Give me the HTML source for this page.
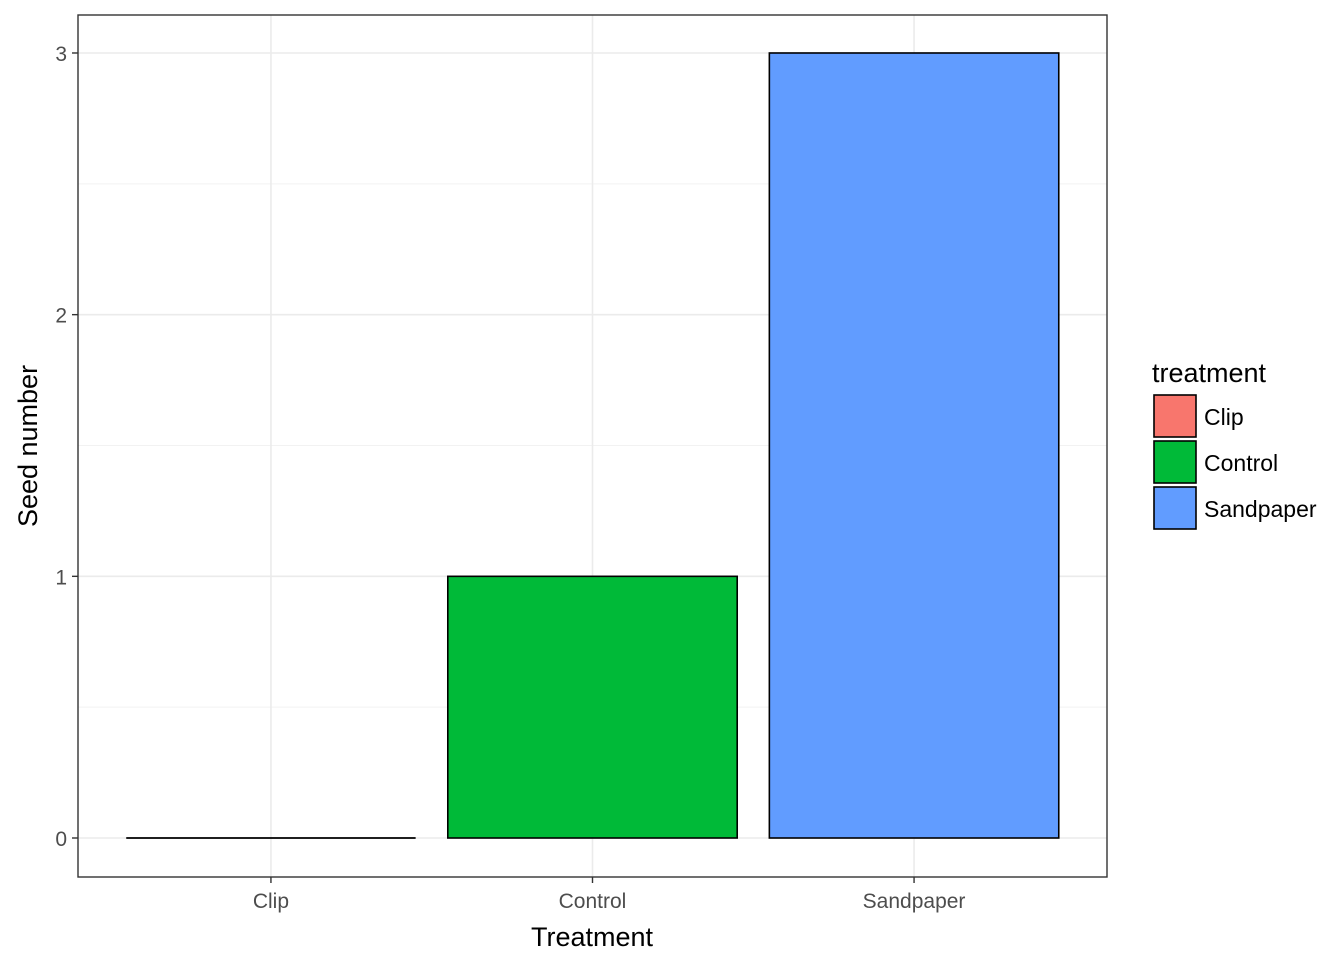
<!DOCTYPE html>
<html><head><meta charset="utf-8"><style>
html,body{margin:0;padding:0;background:#fff;}
svg{display:block;font-family:"Liberation Sans",Arial,sans-serif;}
</style></head><body>
<svg id="chart" width="1344" height="960">
<rect x="0" y="0" width="1344" height="960" fill="#fff"/>
<g id="grid"></g>
<g id="bars"></g>
<rect x="78" y="15" width="1029" height="862" fill="none" stroke="#333" stroke-width="1.4"/>
<g id="axes"></g>
<text x="592" y="946" font-size="27" text-anchor="middle" fill="#000">Treatment</text>
<text transform="translate(37,446) rotate(-90)" font-size="27" text-anchor="middle" fill="#000">Seed number</text>
<g id="legend">
<text x="1152" y="382" font-size="27" fill="#000">treatment</text>
</g>
</svg>
<script>
const categories = ["Clip","Control","Sandpaper"];
const values = [0,1,3];
const colors = ["#F8766D","#00BA38","#619CFF"];
const yTicks = [0,1,2,3];
const yMinor = [0.5,1.5,2.5];

const NS="http://www.w3.org/2000/svg";
function mk(tag,attrs,parent){const e=document.createElementNS(NS,tag);for(const k in attrs)e.setAttribute(k,attrs[k]);parent.appendChild(e);return e;}
const px0=78,px1=1107;
const yScale=v=>838-v*261.67;
const step=(px1-px0)/(categories.length+0.2);
const xScale=i=>px0+step*(0.6+i);
const bw=step*0.9;
const grid=document.getElementById('grid'),bars=document.getElementById('bars'),axes=document.getElementById('axes'),legend=document.getElementById('legend');

yMinor.forEach(v=>{const l=mk('line',{x1:px0,x2:px1,y1:yScale(v),y2:yScale(v),stroke:'#f2f2f2','stroke-width':1},grid);

});
yTicks.forEach(v=>{const y=yScale(v);
const l=mk('line',{x1:px0,x2:px1,y1:y,y2:y,stroke:'#ebebeb','stroke-width':1.6},grid);


const t=mk('line',{x1:px0-6,x2:px0,y1:y,y2:y,stroke:'#333','stroke-width':1.4},axes);


const tx=mk('text',{x:px0-11,y:y+8,'font-size':21,'text-anchor':'end',fill:'#4d4d4d'},axes);tx.textContent=v;

});
categories.forEach((c,i)=>{const x=xScale(i);
const l=mk('line',{x1:x,x2:x,y1:15,y2:877,stroke:'#ebebeb','stroke-width':1.6},grid);


const y0=yScale(0),y1=yScale(values[i]);
if(Math.abs(y0-y1)<0.5){
const r=mk('line',{x1:x-bw/2,x2:x+bw/2,y1:y0,y2:y0,stroke:'#000','stroke-width':1.8},bars);


}else{
const r=mk('rect',{x:x-bw/2,y:Math.min(y0,y1),width:bw,height:Math.abs(y0-y1),fill:colors[i],stroke:'#000','stroke-width':1.6},bars);


}
const t=mk('line',{x1:x,x2:x,y1:877,y2:883,stroke:'#333','stroke-width':1.4},axes);


const tx=mk('text',{x:x,y:908,'font-size':21,'text-anchor':'middle',fill:'#4d4d4d'},axes);tx.textContent=c;


const ly=395+i*46;
const k=mk('rect',{x:1154,y:ly,width:42,height:42,fill:colors[i],stroke:'#000','stroke-width':1.6},legend);


const lt=mk('text',{x:1204,y:ly+30,'font-size':23,fill:'#000'},legend);lt.textContent=c;

});
</script>
</body></html>
